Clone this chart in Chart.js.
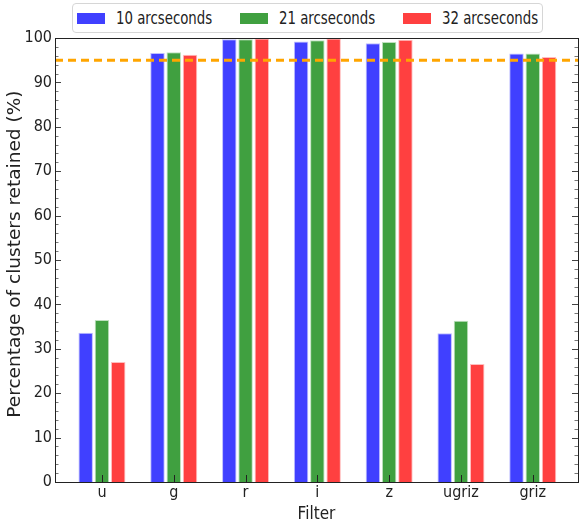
<!DOCTYPE html>
<html>
<head>
<meta charset="utf-8">
<script src="https://cdn.jsdelivr.net/npm/chart.js@4.4.1/dist/chart.umd.min.js"></script>
<style>
  html, body { margin: 0; padding: 0; background: #fff; }
  #wrap { position: relative; width: 579px; height: 527px; }
  #legend {
    position: absolute; left: 72px; top: 3px; width: 469px; height: 28px;
    border: 1px solid #d6d6d6; border-radius: 4px; background: #fff;
    font-family: "DejaVu Sans Condensed", "DejaVu Sans", sans-serif; font-size: 17px; color: #222;
  }
  #legend .item { position: absolute; top: 0; height: 28px; display: flex; align-items: center; white-space: nowrap; }
  #legend .sw { width: 28px; height: 11px; margin-right: 11px; }
  #legend .tx { display: inline-block; transform: scaleX(0.87); transform-origin: left center; }
</style>
</head>
<body>
<div id="wrap">
  <canvas id="chart" width="579" height="527"></canvas>
  <div id="legend"></div>
</div>
<script>
// フィルター（カテゴリ）
const filters = ['u', 'g', 'r', 'i', 'z', 'ugriz', 'griz'];

// 各半径での保持率 (%)
const retained10 = [33.6, 96.6, 99.7, 99.2, 98.8, 33.5, 96.5];
const retained21 = [36.5, 96.8, 99.7, 99.5, 99.1, 36.3, 96.5];
const retained32 = [27.0, 96.2, 99.9, 99.9, 99.6, 26.6, 95.7];

const seriesNames = ['10 arcseconds', '21 arcseconds', '32 arcseconds'];
const seriesColors = ['rgb(64, 64, 255)', 'rgb(64, 160, 64)', 'rgb(255, 64, 64)'];
const edgeColors = ['rgb(190, 190, 255)', 'rgb(190, 225, 190)', 'rgb(255, 190, 190)'];

// 目安のライン
const threshold = 95;

// 縦軸
const yTicks = [0, 10, 20, 30, 40, 50, 60, 70, 80, 90, 100];

const xMin = -0.654, xMax = 6.63;

// 凡例（HTML）
const legendEl = document.getElementById('legend');
seriesNames.forEach((name, i) => {
    const item = document.createElement('div');
    item.className = 'item';
    item.style.left = (4 + i * 163) + 'px';
    item.innerHTML = `<span class="sw" style="background:${seriesColors[i]}"></span><span class="tx">${name}</span>`;
    legendEl.appendChild(item);
});

const allSeries = [retained10, retained21, retained32];
const barSets = allSeries.map((vals, i) => ({
    type: 'bar',
    label: seriesNames[i],
    data: vals.map((v, k) => ({ x: k, y: v })),
    backgroundColor: seriesColors[i],
    borderColor: edgeColors[i],
    borderWidth: 1,
    borderSkipped: 'bottom',
    order: 2
}));

// 枠と内向きの目盛りを描く
const framePlugin = {
    id: 'frame',
    afterDatasetsDraw(chart) {
        const { ctx, chartArea: a, scales } = chart;
        const y = scales.y, x = scales.x;
        ctx.save();
        ctx.lineWidth = 1;
        // 縦の目盛り（左右）
        for (let v = 0; v <= 100; v += 2) {
            const py = Math.round(y.getPixelForValue(v)) + 0.5;
            const major = v % 10 === 0;
            const len = major ? 6 : 3.5;
            ctx.strokeStyle = major ? '#444' : '#777';
            ctx.beginPath();
            ctx.moveTo(a.left, py); ctx.lineTo(a.left + len, py);
            ctx.moveTo(a.right, py); ctx.lineTo(a.right - len, py);
            ctx.stroke();
        }
        // 横の目盛り
        ctx.strokeStyle = '#222';
        filters.forEach((f, k) => {
            const px = Math.round(x.getPixelForValue(k)) + 0.5;
            ctx.beginPath();
            ctx.moveTo(px, a.bottom); ctx.lineTo(px, a.bottom - 7);
            ctx.stroke();
        });
        // 枠
        ctx.strokeStyle = '#222';
        ctx.strokeRect(Math.round(a.left) + 0.5, Math.round(a.top) + 0.5,
            Math.round(a.right - a.left), Math.round(a.bottom - a.top));
        ctx.restore();
    }
};

const tickFont = { family: '"DejaVu Sans Condensed", "DejaVu Sans", sans-serif', size: 16 };

new Chart(document.getElementById('chart'), {
    data: {
        datasets: [
            {
                type: 'line',
                label: 'threshold',
                data: [{ x: xMin, y: threshold }, { x: xMax, y: threshold }],
                borderColor: 'rgb(255, 165, 0)',
                borderWidth: 3,
                borderDash: [8, 5],
                pointRadius: 0,
                fill: false,
                order: 0
            },
            ...barSets
        ]
    },
    options: {
        responsive: false,
        animation: false,
        layout: { padding: { top: 38, right: 1, left: 0, bottom: 0 } },
        plugins: {
            legend: { display: false },
            tooltip: { enabled: false }
        },
        datasets: {
            bar: { categoryPercentage: 0.68, barPercentage: 0.89 }
        },
        scales: {
            x: {
                type: 'linear',
                offset: false,
                min: xMin,
                max: xMax,
                afterBuildTicks: (s) => { s.ticks = filters.map((f, k) => ({ value: k })); },
                afterFit: (s) => { s.height = 45; },
                grid: { display: false, drawTicks: false },
                border: { display: false },
                ticks: {
                    font: tickFont,
                    color: '#222',
                    padding: 1,
                    autoSkip: false,
                    maxRotation: 0,
                    callback: (v) => filters[v] ?? ''
                },
                title: {
                    display: true,
                    text: 'Filter',
                    font: { family: tickFont.family, size: 17 },
                    color: '#222',
                    padding: { top: 0, bottom: 2 }
                }
            },
            y: {
                min: 0,
                max: 100,
                afterBuildTicks: (s) => { s.ticks = yTicks.map(v => ({ value: v })); },
                afterFit: (s) => { s.width = 55; },
                grid: { display: false, drawTicks: false },
                border: { display: false },
                ticks: { font: tickFont, color: '#222', padding: 3 },
                title: {
                    display: true,
                    text: '  Percentage of clusters retained (%)',
                    font: { family: '"DejaVu Sans", sans-serif', size: 18.5 },
                    color: '#222',
                    padding: { top: 4, bottom: 0 }
                }
            }
        }
    },
    plugins: [framePlugin]
});
</script>
</body>
</html>
